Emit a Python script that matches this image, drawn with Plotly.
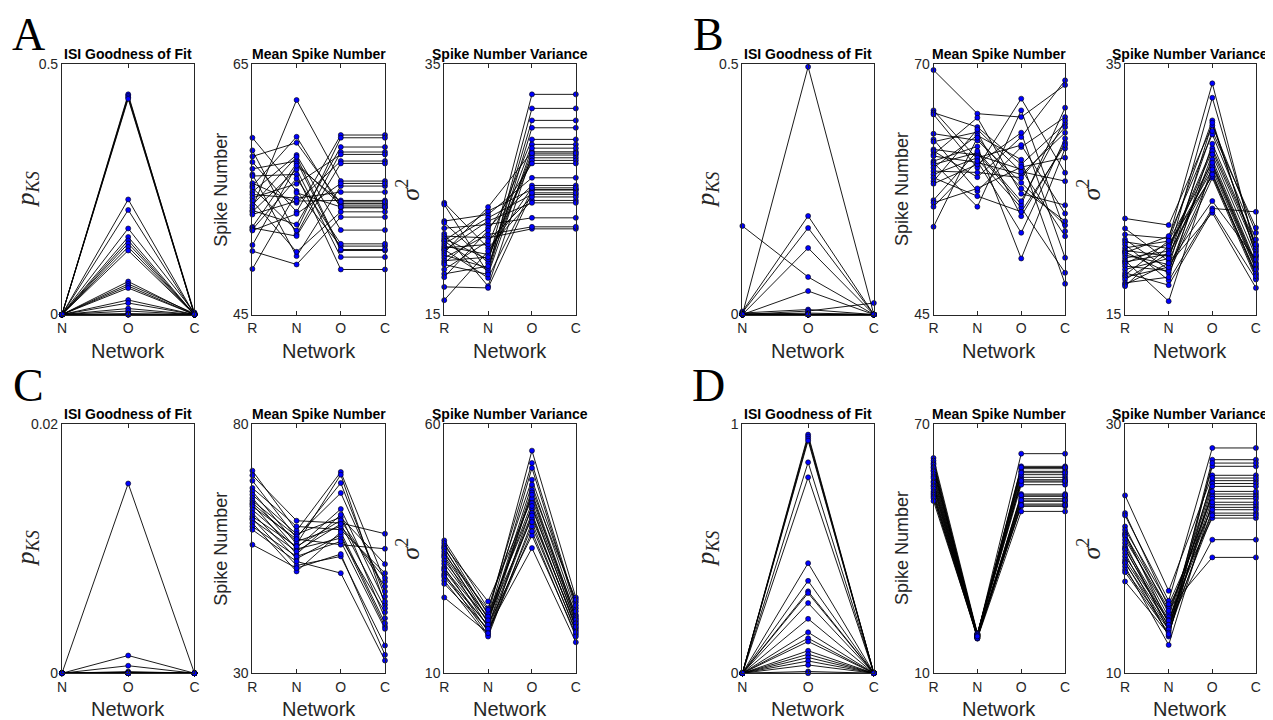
import plotly.graph_objects as go

W, H = 1273, 720

# ---------------- categories ----------------
cats3 = ["N", "O", "C"]
cats4 = ["R", "N", "O", "C"]

# ---------------- Panel A ----------------
A_isi_N = [0, 0, 0, 0, 0, 0, 0, 0, 0, 0, 0, 0, 0, 0, 0, 0, 0, 0, 0, 0, 0, 0, 0, 0, 0, 0]
A_isi_O = [0.440, 0.437, 0.434, 0.431, 0.230, 0.209, 0.172, 0.155, 0.148, 0.142, 0.135, 0.128, 0.066,
           0.061, 0.057, 0.053, 0.029, 0.023, 0.012, 0.007, 0.002, 0.0, 0.0, 0.0, 0.0, 0.0]
A_isi_C = [0.0, 0.003, 0.0, 0.0, 0.0, 0.0, 0.004, 0.0, 0.0, 0.0, 0.0, 0.0, 0.0, 0.002, 0.0, 0.0, 0.0,
           0.0, 0.0, 0.0, 0.0, 0.0, 0.0, 0.0, 0.0, 0.0]

A_mean_R = [59.13, 58.12, 57.64, 57.19, 56.65, 56.2, 56.07, 55.5, 55.27, 55.13, 54.81, 54.6, 54.33,
            54.07, 53.75, 53.53, 53.32, 53.21, 53.0, 52.0, 51.93, 51.8, 51.72, 50.55, 50.07, 48.65]
A_mean_N = [54.87, 51.4, 58.73, 53.21, 57.27, 49.67, 56.2, 53.93, 59.21, 51.72, 57.75, 54.3, 55.45,
            50.01, 57.61, 62.15, 52.2, 56.6, 54.07, 57.08, 51.27, 55.88, 53.05, 56.9, 49.0, 54.73]
A_mean_O = [50.47, 57.99, 53.88, 59.35, 50.12, 55.27, 48.6, 57.27, 53.53, 59.13, 51.75, 54.79, 57.8,
            53.21, 50.2, 55.67, 58.39, 49.59, 54.12, 53.75, 57.08, 50.65, 55.48, 54.01, 52.79, 53.6]
A_mean_C = [50.47, 57.99, 53.88, 59.35, 50.12, 55.27, 48.6, 57.27, 53.53, 59.13, 51.75, 54.79, 57.8,
            53.21, 50.2, 55.67, 58.39, 49.59, 54.12, 53.75, 57.08, 50.65, 55.48, 54.01, 52.79, 53.6]

A_var_R = [23.93, 23.8, 22.47, 22.33, 21.9, 21.45, 21.27, 21.08, 20.9, 20.87, 20.65, 20.47, 20.33,
           20.2, 20.12, 19.93, 19.75, 19.53, 19.3, 19.13, 19.0, 18.6, 18.25, 17.99, 17.21, 16.15]
A_var_N = [20.33, 18.3, 23.0, 19.13, 22.2, 17.27, 21.13, 19.4, 23.27, 18.47, 22.73, 19.8, 20.6,
           17.93, 22.47, 23.59, 18.73, 21.4, 19.59, 21.93, 18.2, 20.87, 18.87, 21.72, 17.13, 20.07]
A_var_O = [24.12, 29.93, 25.93, 32.6, 22.73, 27.75, 21.85, 28.6, 25.0, 31.48, 24.6, 27.53, 29.0,
           24.95, 23.93, 28.01, 30.52, 22.01, 27.32, 25.32, 28.3, 24.4, 27.9, 27.08, 24.73, 25.13]
A_var_C = [24.12, 29.93, 25.93, 32.6, 22.73, 27.75, 21.85, 28.6, 25.0, 31.48, 24.6, 27.53, 29.0,
           24.95, 23.93, 28.01, 30.52, 22.01, 27.32, 25.32, 28.3, 24.4, 27.9, 27.08, 24.73, 25.13]

# ---------------- Panel B ----------------
B_isi_N = [0, 0.006, 0.004, 0, 0.177, 0, 0.003, 0, 0, 0.002, 0, 0, 0, 0, 0, 0, 0, 0, 0, 0, 0, 0, 0, 0]
B_isi_O = [0.495, 0.197, 0.173, 0.133, 0.075, 0.047, 0.010, 0.007, 0.003, 0.001, 0, 0, 0, 0, 0, 0,
           0, 0, 0, 0, 0, 0, 0, 0]
B_isi_C = [0, 0, 0, 0, 0, 0, 0, 0.023, 0, 0, 0, 0, 0, 0, 0, 0, 0, 0, 0, 0, 0, 0, 0, 0]

B_mean_R = [69.43, 65.4, 65.17, 65.0, 63.07, 62.5, 62.27, 61.5, 61.33, 61.0, 60.83, 60.33, 60.17,
            60.0, 59.67, 59.33, 59.0, 58.67, 58.33, 58.07, 56.43, 56.17, 55.77, 53.77]
B_mean_N = [65.07, 60.5, 63.73, 59.67, 62.4, 57.33, 63.23, 60.93, 58.73, 64.67, 60.2, 61.8, 55.77,
            61.17, 62.9, 59.2, 60.67, 56.83, 63.5, 60.0, 61.33, 57.6, 60.33, 62.67]
B_mean_O = [64.73, 55.67, 60.0, 66.57, 58.17, 61.73, 54.83, 59.5, 62.73, 57.07, 59.0, 50.6, 65.4,
            56.0, 60.47, 58.67, 61.93, 55.27, 59.27, 63.17, 56.33, 59.73, 53.17, 57.6]
B_mean_C = [67.93, 49.17, 64.07, 59.17, 53.93, 64.73, 62.17, 52.83, 68.4, 55.93, 63.17, 61.6, 53.33,
            65.67, 48.07, 63.73, 55.1, 61.93, 58.33, 50.67, 64.4, 60.67, 62.6, 54.33]

B_var_R = [22.68, 21.88, 21.4, 21.0, 20.81, 20.6, 20.33, 20.12, 20.0, 19.93, 19.75, 19.53, 19.32,
           19.2, 19.08, 18.87, 18.6, 18.33, 18.15, 18.0, 17.8, 17.53, 17.4, 17.27]
B_var_N = [22.15, 19.27, 21.08, 18.6, 20.28, 17.72, 20.87, 19.67, 18.33, 21.27, 19.0, 20.07, 16.07,
           19.85, 20.65, 18.5, 19.48, 17.35, 20.9, 18.79, 19.9, 17.99, 19.1, 20.47]
B_var_O = [30.12, 27.4, 33.48, 26.33, 28.3, 23.48, 30.52, 27.0, 25.93, 29.4, 23.13, 28.07, 26.87,
           32.33, 26.07, 27.8, 29.67, 23.32, 27.13, 30.33, 26.2, 28.65, 24.07, 26.6]
B_var_C = [21.53, 19.13, 20.01, 18.2, 20.5, 23.21, 19.7, 18.87, 17.9, 21.0, 17.13, 20.2, 18.7,
           20.39, 18.33, 19.59, 21.93, 17.8, 19.0, 19.8, 18.07, 20.6, 19.4, 18.6]

# ---------------- Panel C ----------------
C_isi_N = [0, 0, 0, 0, 0, 0, 0, 0, 0, 0, 0, 0, 0, 0, 0, 0, 0, 0, 0, 0]
C_isi_O = [0.0152, 0.00142, 0.0006, 0.00013, 0.00005, 0, 0, 0, 0, 0, 0, 0, 0, 0, 0, 0, 0, 0, 0, 0]
C_isi_C = [0, 0, 0, 0, 0, 0, 0, 0, 0, 0, 0, 0, 0, 0, 0, 0, 0, 0, 0, 0]

C_mean_R = [70.57, 69.64, 68.57, 67.1, 66.43, 65.76, 65.09, 64.56, 64.09, 63.8, 63.42, 62.75, 62.09,
            61.42, 61.0, 60.75, 60.08, 59.41, 58.74, 55.74]
C_mean_N = [58.54, 60.55, 57.1, 59.41, 55.87, 57.87, 54.87, 57.41, 56.4, 53.86, 56.87, 55.1, 52.93,
            55.4, 51.59, 54.4, 50.39, 53.4, 52.39, 51.06]
C_mean_O = [70.31, 60.08, 68.1, 58.74, 69.77, 61.22, 57.07, 66.1, 59.41, 61.75, 55.74, 62.89, 57.74,
            60.62, 53.4, 59.9, 58.28, 56.4, 50.05, 53.86]
C_mean_C = [48.38, 57.94, 45.37, 50.05, 43.7, 51.86, 42.23, 46.38, 49.05, 41.03, 54.93, 44.37, 39.36,
            47.38, 35.55, 43.03, 40.03, 38.89, 32.54, 33.68]

C_var_R = [36.6, 36.07, 35.53, 35.2, 34.93, 34.4, 33.86, 33.5, 33.2, 32.53, 31.93, 31.26, 30.9, 30.59,
           29.92, 29.6, 29.25, 28.58, 27.91, 25.17]
C_var_N = [23.0, 21.7, 24.37, 20.9, 22.03, 20.0, 22.7, 21.0, 19.16, 21.36, 20.36, 18.3, 20.6, 19.4,
           17.7, 19.69, 18.69, 17.35, 18.9, 18.02]
C_var_O = [48.77, 54.59, 44.96, 51.11, 43.09, 46.76, 52.11, 41.08, 46.2, 44.09, 47.77, 39.41, 45.76,
           42.09, 43.5, 37.61, 41.6, 40.28, 35.07, 38.41]
C_var_C = [24.24, 25.17, 21.7, 23.03, 20.36, 24.71, 23.6, 19.69, 21.4, 21.03, 22.4, 18.6, 20.7, 19.02,
           20.0, 17.8, 19.3, 18.22, 16.22, 17.35]

# ---------------- Panel D ----------------
D_isi_N = [0, 0, 0, 0, 0, 0, 0, 0, 0, 0, 0, 0, 0, 0, 0, 0, 0, 0, 0, 0, 0, 0]
D_isi_O = [0.956, 0.948, 0.940, 0.932, 0.845, 0.785, 0.441, 0.370, 0.328, 0.321, 0.281, 0.218, 0.164,
           0.140, 0.127, 0.090, 0.076, 0.063, 0.049, 0.033, 0.007, 0.0]
D_isi_C = [0, 0, 0, 0, 0, 0, 0, 0, 0, 0, 0, 0, 0, 0, 0, 0, 0, 0, 0, 0, 0, 0]

D_mean_R = [61.74, 61.1, 60.5, 60.13, 59.6, 59.33, 58.8, 58.53, 57.9, 57.33, 56.9, 56.13, 55.8, 55.2,
            54.92, 54.4, 53.72, 53.3, 52.92, 52.5, 52.11, 51.4]
D_mean_N = [19.62, 19.1, 18.75, 19.35, 18.4, 19.5, 18.9, 19.2, 18.6, 19.05, 18.3, 19.4, 18.8, 19.25,
            18.5, 18.95, 19.15, 18.7, 19.3, 18.45, 19.0, 18.85]
D_mean_O = [57.09, 62.78, 51.31, 59.17, 53.07, 55.96, 50.11, 58.53, 52.51, 56.52, 48.9, 59.73, 51.95,
            57.73, 50.67, 55.32, 59.45, 52.8, 58.2, 51.6, 56.2, 50.4]
D_mean_C = [57.09, 62.78, 51.31, 59.17, 53.07, 55.96, 50.11, 58.53, 52.51, 56.52, 48.9, 59.73, 51.95,
            57.73, 50.67, 55.32, 59.45, 52.8, 58.2, 51.6, 56.2, 50.4]

D_var_R = [24.25, 22.83, 22.65, 21.76, 21.5, 21.23, 21.1, 20.96, 20.7, 20.43, 20.16, 20.0, 19.89,
           19.63, 19.36, 19.09, 18.9, 18.82, 18.56, 18.29, 18.1, 17.35]
D_var_N = [16.6, 15.3, 15.8, 14.8, 15.53, 13.95, 15.16, 14.5, 15.0, 13.4, 14.28, 13.7, 14.09, 12.94,
           14.2, 13.88, 13.05, 13.61, 12.27, 13.5, 13.25, 13.13]
D_var_O = [25.86, 22.43, 28.05, 24.36, 23.29, 26.58, 19.28, 25.43, 24.17, 27.11, 22.83, 23.98, 20.7,
           26.84, 23.5, 25.2, 24.97, 22.65, 23.7, 25.64, 23.1, 24.57]
D_var_C = [25.86, 22.43, 28.05, 24.36, 23.29, 26.58, 19.28, 25.43, 24.17, 27.11, 22.83, 23.98, 20.7,
           26.84, 23.5, 25.2, 24.97, 22.65, 23.7, 25.64, 23.1, 24.57]

# ---------------- axis ranges & tick labels ----------------
panels = {
    "A": dict(row=0, colofs=0,
              isi=([A_isi_N, A_isi_O, A_isi_C], [0, 0.5], ["0", "0.5"]),
              mean=([A_mean_R, A_mean_N, A_mean_O, A_mean_C], [45, 65], ["45", "65"]),
              var=([A_var_R, A_var_N, A_var_O, A_var_C], [15, 35], ["15", "35"])),
    "B": dict(row=0, colofs=3,
              isi=([B_isi_N, B_isi_O, B_isi_C], [0, 0.5], ["0", "0.5"]),
              mean=([B_mean_R, B_mean_N, B_mean_O, B_mean_C], [45, 70], ["45", "70"]),
              var=([B_var_R, B_var_N, B_var_O, B_var_C], [15, 35], ["15", "35"])),
    "C": dict(row=1, colofs=0,
              isi=([C_isi_N, C_isi_O, C_isi_C], [0, 0.02], ["0", "0.02"]),
              mean=([C_mean_R, C_mean_N, C_mean_O, C_mean_C], [30, 80], ["30", "80"]),
              var=([C_var_R, C_var_N, C_var_O, C_var_C], [10, 60], ["10", "60"])),
    "D": dict(row=1, colofs=3,
              isi=([D_isi_N, D_isi_O, D_isi_C], [0, 1], ["0", "1"]),
              mean=([D_mean_R, D_mean_N, D_mean_O, D_mean_C], [10, 70], ["10", "70"]),
              var=([D_var_R, D_var_N, D_var_O, D_var_C], [10, 30], ["10", "30"])),
}

titles = ["ISI Goodness of Fit", "Mean Spike Number", "Spike Number Variance"]

# pixel layout (screen pixels of the target picture)
col_px = [(61.7, 194.3), (252.3, 385.0), (444.3, 576.0),
          (742.7, 874.3), (934.0, 1065.7), (1125.7, 1256.7)]
row_px = [(63.3, 313.3), (422.3, 671.7)]
# measured mapping from figure pixels to the photographed page
SX, OX = 0.993, 12.7
SY, OY = 0.977, 15.0

AX = "#262626"
SANS = "Liberation Sans, Arial, sans-serif"
SERIF = "Liberation Serif, Times New Roman, serif"


def px_x(x):
    return ((x - OX) / SX) / W


def px_y(y):
    return 1 - ((y - OY) / SY) / H


fig = go.Figure()
annotations = []
layout_axes = {}
k = 0
for letter, p in panels.items():
    r = p["row"]
    top, bot = row_px[r]
    for j, key in enumerate(["isi", "mean", "var"]):
        k += 1
        cols, yr, ytxt = p[key]
        cats = cats3 if key == "isi" else cats4
        left, right = col_px[p["colofs"] + j]
        xs, ys = [], []
        for i in range(len(cols[0])):
            for c, vals in zip(cats, cols):
                xs.append(c)
                ys.append(vals[i])
            xs.append(None)
            ys.append(None)
        fig.add_trace(go.Scatter(
            x=xs, y=ys, xaxis=f"x{k}", yaxis=f"y{k}", mode="lines+markers",
            line=dict(color="black", width=0.9),
            marker=dict(color="#0000ff", size=5, line=dict(color="black", width=0.6)),
            cliponaxis=False, showlegend=False, hoverinfo="skip"))
        xname = "xaxis" if k == 1 else f"xaxis{k}"
        yname = "yaxis" if k == 1 else f"yaxis{k}"
        layout_axes[xname] = dict(
            domain=[px_x(left), px_x(right)], anchor=f"y{k}", type="category",
            categoryorder="array", categoryarray=cats, range=[0, len(cats) - 1],
            showline=True, linecolor=AX, linewidth=1, mirror="ticks",
            ticks="inside", ticklen=4, tickwidth=1, tickcolor=AX,
            showgrid=False, zeroline=False, ticklabelstandoff=1,
            tickfont=dict(family=SANS, size=14, color=AX), fixedrange=True)
        layout_axes[yname] = dict(
            domain=[px_y(bot), px_y(top)], anchor=f"x{k}", range=yr,
            tickvals=yr, ticktext=ytxt, ticks="",
            showline=True, linecolor=AX, linewidth=1, mirror=True,
            showgrid=False, zeroline=False,
            tickfont=dict(family=SANS, size=14, color=AX), fixedrange=True)
        cx = (left + right) / 2
        # subplot title
        annotations.append(dict(x=px_x(cx), y=px_y(top - 10), xref="paper", yref="paper",
                                text="<b>" + titles[j] + "</b>", showarrow=False,
                                xanchor="center", yanchor="middle",
                                font=dict(family=SANS, size=14, color="black")))
        # x title
        annotations.append(dict(x=px_x(cx), y=px_y(bot + 36), xref="paper", yref="paper",
                                text="Network", showarrow=False, xanchor="center",
                                yanchor="middle", font=dict(family=SANS, size=20, color=AX)))
        # y title
        cy = (top + bot) / 2
        if key == "isi":
            txt = "<i>p</i><sub><i>KS</i></sub>"
            annotations.append(dict(x=px_x(left - 35), y=px_y(cy), xref="paper", yref="paper",
                                    text=txt, showarrow=False, textangle=-90,
                                    xanchor="center", yanchor="middle",
                                    font=dict(family=SERIF, size=26, color=AX)))
        elif key == "mean":
            annotations.append(dict(x=px_x(left - 31), y=px_y(cy), xref="paper", yref="paper",
                                    text="Spike Number", showarrow=False, textangle=-90,
                                    xanchor="center", yanchor="middle",
                                    font=dict(family=SANS, size=18, color=AX)))
        else:
            annotations.append(dict(x=px_x(left - 36), y=px_y(cy), xref="paper", yref="paper",
                                    text="<i>σ</i><sup>2</sup>", showarrow=False, textangle=-90,
                                    xanchor="center", yanchor="middle",
                                    font=dict(family=SERIF, size=26, color=AX)))
    # panel letter
    lx = 28 if p["colofs"] == 0 else 709
    ly = 33 if r == 0 else 384
    annotations.append(dict(x=px_x(lx), y=px_y(ly), xref="paper", yref="paper", text=letter,
                            showarrow=False, xanchor="center", yanchor="middle",
                            font=dict(family=SERIF, size=46, color="black")))

fig.update_layout(
    width=W, height=H, margin=dict(l=0, r=0, t=0, b=0),
    paper_bgcolor="white", plot_bgcolor="white",
    showlegend=False, annotations=annotations, **layout_axes)

fig.write_html("out.html")
